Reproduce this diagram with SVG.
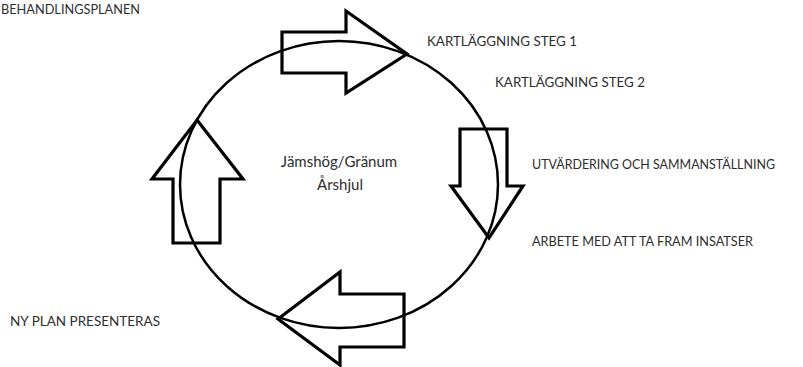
<svg xmlns="http://www.w3.org/2000/svg" width="803" height="367" viewBox="0 0 803 367">
<style>
.lbl{font-family:Lato,"Open Sans","Liberation Sans",sans-serif;font-size:13px;fill:#2e2e2e}
.ctr{font-family:Lato,"Open Sans","Liberation Sans",sans-serif;font-size:15px;fill:#2e2e2e}
.arrow{fill:none;stroke:#000;stroke-width:3.2;stroke-linejoin:miter}
.ring{fill:none;stroke:#000;stroke-width:2.5}
</style>
<rect width="803" height="367" fill="#fff"/>
<g id="connectors">
<ellipse class="ring" cx="339" cy="184.5" rx="159" ry="143.5"/>
</g>
<g id="arrow-top"><polygon class="arrow" points="282,32 346,32 346,11 407,54 346,93 346,73 282,73"/></g>
<g id="arrow-right"><polygon class="arrow" points="460,129 507,129 507,186 523,186 489,238 451,186 460,186"/></g>
<g id="arrow-bottom"><polygon class="arrow" points="278,319 340,272 340,294 404,294 404,347 340,347 340,365"/></g>
<g id="arrow-left"><polygon class="arrow" points="197,120 243,179 220,179 220,243 173,243 173,179 152,179"/></g>
<g id="center"><text class="ctr" x="339" y="167" text-anchor="middle">Jämshög/Gränum</text><text class="ctr" x="340" y="190" text-anchor="middle">Årshjul</text></g>
<g id="label-top"><text class="lbl" x="1" y="14" font-size="12" textLength="139" lengthAdjust="spacingAndGlyphs">BEHANDLINGSPLANEN</text></g>
<g id="label-k1"><text class="lbl" x="427" y="46" textLength="150" lengthAdjust="spacingAndGlyphs">KARTLÄGGNING STEG 1</text></g>
<g id="label-k2"><text class="lbl" x="495" y="87" textLength="150" lengthAdjust="spacingAndGlyphs">KARTLÄGGNING STEG 2</text></g>
<g id="label-utv"><text class="lbl" x="532" y="169" textLength="243" lengthAdjust="spacingAndGlyphs">UTVÄRDERING OCH SAMMANSTÄLLNING</text></g>
<g id="label-arb"><text class="lbl" x="532" y="246" textLength="221" lengthAdjust="spacingAndGlyphs">ARBETE MED ATT TA FRAM INSATSER</text></g>
<g id="label-ny"><text class="lbl" x="10" y="326" textLength="150" lengthAdjust="spacingAndGlyphs">NY PLAN PRESENTERAS</text></g>
</svg>
